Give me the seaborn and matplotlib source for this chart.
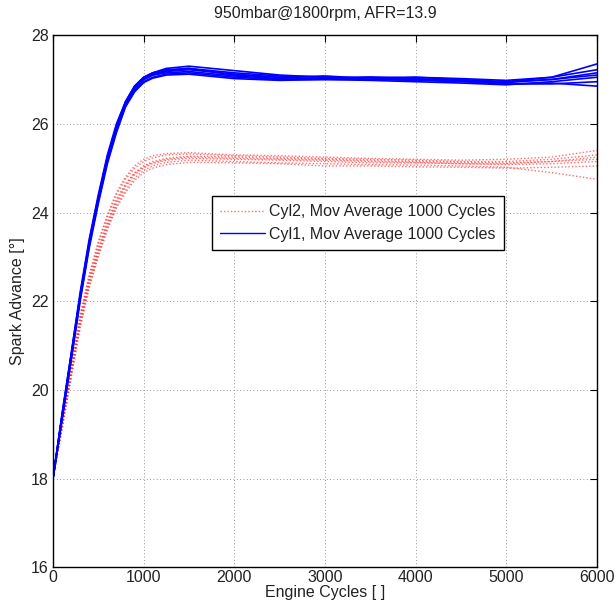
import numpy as np
import pandas as pd
import seaborn as sns
import matplotlib.pyplot as plt
from matplotlib.lines import Line2D

# engine cycles at which the curves were read
cycles = [0, 100, 200, 300, 400, 500, 600, 700, 800, 900, 1000, 1100, 1250,
          1500, 2000, 2500, 3000, 3500, 4000, 4500, 5000, 5500, 6000]

# Cyl1 runs (blue)
cyl1_runs = [
    [18.0, 19.45, 20.8, 22.2, 23.4, 24.4, 25.3, 26.0, 26.5, 26.85, 27.05, 27.15, 27.25, 27.3, 27.2, 27.1, 27.05, 27.05, 27.05, 27.0, 26.95, 27.05, 27.35],
    [18.0, 19.4, 20.75, 22.1, 23.3, 24.3, 25.2, 25.9, 26.45, 26.8, 27.0, 27.1, 27.18, 27.22, 27.12, 27.05, 27.08, 27.02, 27.0, 26.98, 26.95, 27.0, 27.15],
    [18.0, 19.35, 20.7, 22.05, 23.25, 24.25, 25.15, 25.85, 26.4, 26.75, 26.95, 27.05, 27.12, 27.15, 27.05, 27.0, 27.0, 26.98, 26.95, 26.92, 26.88, 26.95, 27.05],
    [18.0, 19.4, 20.7, 22.1, 23.3, 24.3, 25.2, 25.9, 26.45, 26.8, 27.0, 27.1, 27.15, 27.18, 27.08, 27.02, 27.02, 27.05, 27.02, 26.97, 26.9, 26.92, 26.85],
    [18.0, 19.45, 20.8, 22.15, 23.35, 24.35, 25.25, 25.95, 26.5, 26.85, 27.05, 27.15, 27.22, 27.25, 27.15, 27.08, 27.05, 27.0, 27.05, 27.02, 26.98, 27.05, 27.22],
    [18.0, 19.3, 20.65, 22.0, 23.2, 24.2, 25.1, 25.8, 26.38, 26.72, 26.93, 27.03, 27.1, 27.12, 27.02, 26.98, 27.0, 27.0, 26.98, 26.95, 26.9, 26.9, 26.95],
    [18.0, 19.4, 20.75, 22.1, 23.3, 24.3, 25.2, 25.92, 26.47, 26.82, 27.02, 27.12, 27.2, 27.25, 27.1, 27.05, 27.02, 27.05, 27.0, 26.97, 26.93, 27.0, 27.1],
]

# Cyl2 runs (red, dotted)
cyl2_runs = [
    [18.0, 19.25, 20.5, 21.7, 22.6, 23.35, 23.95, 24.45, 24.8, 25.05, 25.2, 25.28, 25.33, 25.35, 25.3, 25.28, 25.25, 25.22, 25.2, 25.18, 25.2, 25.25, 25.4],
    [18.0, 19.2, 20.4, 21.6, 22.5, 23.2, 23.8, 24.3, 24.65, 24.9, 25.05, 25.15, 25.22, 25.27, 25.25, 25.22, 25.2, 25.17, 25.15, 25.13, 25.12, 25.15, 25.2],
    [18.0, 19.15, 20.3, 21.45, 22.35, 23.05, 23.65, 24.15, 24.5, 24.78, 24.95, 25.05, 25.13, 25.18, 25.15, 25.12, 25.1, 25.08, 25.07, 25.05, 25.02, 24.9, 24.75],
    [18.0, 19.2, 20.35, 21.5, 22.4, 23.1, 23.7, 24.2, 24.58, 24.85, 25.0, 25.1, 25.18, 25.22, 25.2, 25.18, 25.15, 25.12, 25.12, 25.1, 25.08, 25.1, 25.15],
    [18.0, 19.25, 20.45, 21.65, 22.55, 23.3, 23.9, 24.4, 24.75, 25.0, 25.15, 25.23, 25.3, 25.32, 25.28, 25.25, 25.22, 25.2, 25.18, 25.15, 25.15, 25.2, 25.3],
    [18.0, 19.1, 20.25, 21.4, 22.3, 23.0, 23.6, 24.1, 24.45, 24.72, 24.9, 25.0, 25.08, 25.13, 25.12, 25.1, 25.05, 25.05, 25.03, 25.02, 25.0, 25.02, 25.05],
    [18.0, 19.2, 20.4, 21.55, 22.45, 23.15, 23.75, 24.25, 24.62, 24.88, 25.03, 25.12, 25.2, 25.25, 25.22, 25.2, 25.18, 25.15, 25.13, 25.1, 25.1, 25.15, 25.25],
]

label_cyl2 = "Cyl2, Mov Average 1000 Cycles"
label_cyl1 = "Cyl1, Mov Average 1000 Cycles"

rows = []
for i, run in enumerate(cyl2_runs):
    for c, v in zip(cycles, run):
        rows.append({"cycle": c, "adv": v, "cyl": "Cyl2", "run": "c2_%d" % i})
for i, run in enumerate(cyl1_runs):
    for c, v in zip(cycles, run):
        rows.append({"cycle": c, "adv": v, "cyl": "Cyl1", "run": "c1_%d" % i})
df = pd.DataFrame(rows)

sns.set_style("white")
plt.rcParams['font.family'] = ['Liberation Sans', 'DejaVu Sans']

fs = 11.5
red = "#ff3030"
blue = "#0000ff"
dots = (0, (1, 1.5))

fig = plt.figure(figsize=(6.16, 6.06), dpi=100)
ax = fig.add_axes([0.086, 0.064, 0.883, 0.878])

sns.lineplot(data=df[df.cyl == "Cyl2"], x="cycle", y="adv", units="run",
             estimator=None, color=red, linestyle=dots,
             linewidth=1.0, alpha=0.7, ax=ax, legend=False)
sns.lineplot(data=df[df.cyl == "Cyl1"], x="cycle", y="adv", units="run",
             estimator=None, color=blue, linewidth=1.2, ax=ax, legend=False)

ax.set_xlim(0, 6000)
ax.set_ylim(16, 28)
ax.set_xticks(range(0, 6001, 1000))
ax.set_yticks(range(16, 29, 2))
ax.grid(True, color="#777777", linestyle=(0, (1, 3)), linewidth=0.6)
ax.tick_params(direction="in", top=True, right=True, length=5, width=0.8,
               labelsize=fs, color="black", labelcolor="#222222")
ax.tick_params(axis="x", pad=2)
ax.tick_params(axis="y", pad=3)
for s in ax.spines.values():
    s.set_color("black")
    s.set_linewidth(1.0)

ax.set_xlabel("Engine Cycles [ ]", fontsize=fs, labelpad=0, color="#222222")
ax.set_ylabel("Spark Advance [°]", fontsize=fs, labelpad=4, color="#222222")
ax.set_title("950mbar@1800rpm, AFR=13.9", fontsize=fs, pad=12, color="#222222")

handles = [Line2D([], [], color=red, linestyle=dots, alpha=0.7, linewidth=1.0),
           Line2D([], [], color=blue, linewidth=1.0)]
leg = ax.legend(handles, [label_cyl2, label_cyl1], loc="upper left",
                bbox_to_anchor=(0.292, 0.697), borderaxespad=0,
                fancybox=False, framealpha=1, edgecolor="black", fontsize=fs,
                handlelength=2.8, borderpad=0.5, labelspacing=0.45,
                handletextpad=0.3)
leg.get_frame().set_linewidth(1.0)
for t in leg.get_texts():
    t.set_color("#222222")

plt.savefig("out.png", dpi=100)
